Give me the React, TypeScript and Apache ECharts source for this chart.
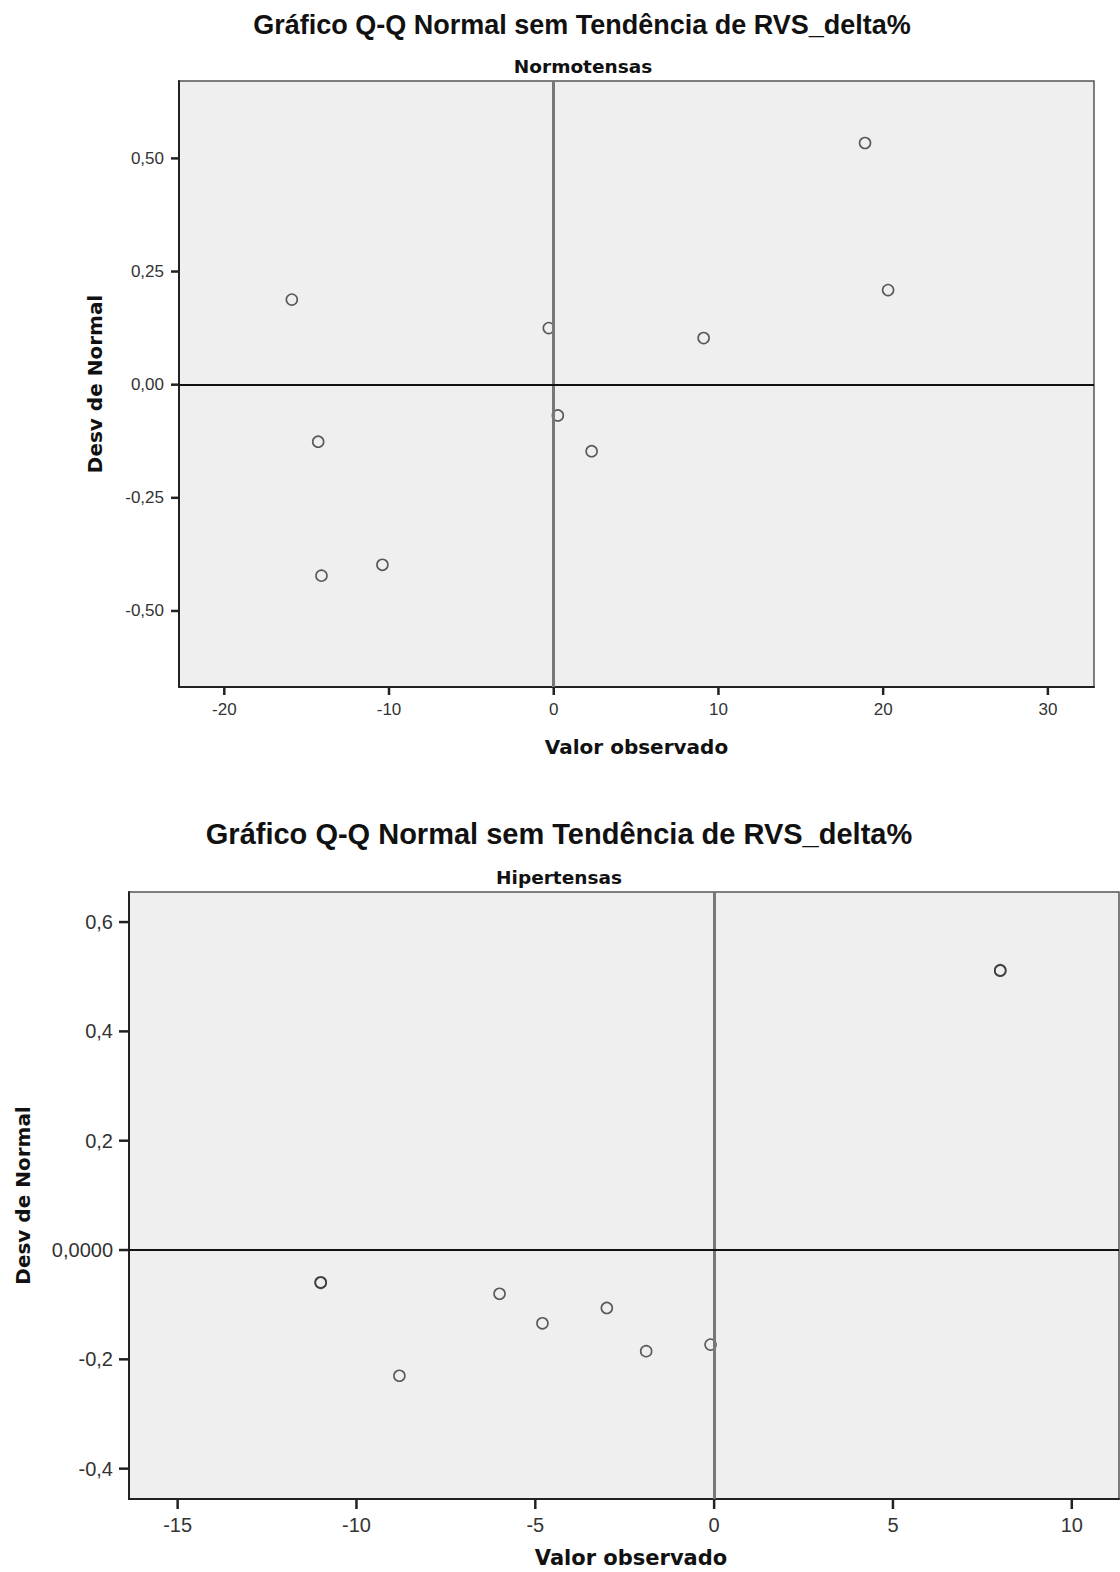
import React, { useEffect, useRef } from "react";
import * as echarts from "echarts";

// Normotensas
const normObserved = [18.9, 20.3, -15.9, -0.3, 0.25, -14.3, -14.1, -10.4, 9.1, 2.3];
const normDeviation = [0.534, 0.209, 0.188, 0.125, -0.068, -0.126, -0.422, -0.398, 0.103, -0.147];
const normXTicks = [-20, -10, 0, 10, 20, 30];
const normYTicks = [-0.5, -0.25, 0, 0.25, 0.5];

// Hipertensas
const hipObserved = [8.0, 8.0, -11.0, -11.0, -6.0, -4.8, -8.8, -3.0, -1.9, -0.1];
const hipDeviation = [0.511, 0.512, -0.059, -0.06, -0.08, -0.134, -0.23, -0.106, -0.185, -0.173];
const hipXTicks = [-15, -10, -5, 0, 5, 10];
const hipYTicks = [-0.4, -0.2, 0, 0.2, 0.4, 0.6];

const mainTitle = "Gráfico Q-Q Normal sem Tendência de RVS_delta%";
const groupNames = ["Normotensas", "Hipertensas"];
const xName = "Valor observado";
const yName = "Desv de Normal";

const ARIAL = "'Liberation Sans', Arial, sans-serif";
const DEJA = "'DejaVu Sans', Verdana, sans-serif";

const RANGES = [
  { xMin: -22.75, xMax: 32.8, yMin: -0.668, yMax: 0.671 },
  { xMin: -16.36, xMax: 11.32, yMin: -0.4555, yMax: 0.655 },
];

function pts(xs: number[], ys: number[]) {
  return xs.map((x, i) => [x, ys[i]]);
}

export default function App() {
  const ref = useRef<HTMLDivElement>(null);
  useEffect(() => {
    if (!ref.current) return;
    const chart = echarts.init(ref.current, undefined, { renderer: "svg" });

    const xAxisBase = (idx: number, ticks: number[], fs: number, margin: number, gap: number, pad: number[]) => ({
      type: "value",
      gridIndex: idx,
      min: RANGES[idx].xMin,
      max: RANGES[idx].xMax,
      name: xName,
      nameLocation: "middle",
      nameGap: gap,
      nameTextStyle: { fontFamily: DEJA, fontWeight: "bold", fontSize: idx === 0 ? 20 : 21, color: "#111", padding: pad },
      splitLine: { show: false },
      axisLine: { show: true, onZero: false, lineStyle: { color: "#222", width: 2 } },
      axisTick: { show: false },
      axisLabel: {
        show: true,
        customValues: ticks,
        margin,
        fontFamily: ARIAL,
        fontSize: fs,
        color: "#333",
        formatter: (v: number) => String(v),
      },
    });

    const yAxisBase = (idx: number, ticks: number[], fs: number, margin: number, gap: number, fmt: (v: number) => string) => ({
      type: "value",
      gridIndex: idx,
      min: RANGES[idx].yMin,
      max: RANGES[idx].yMax,
      name: yName,
      nameLocation: "middle",
      nameGap: gap,
      nameRotate: 90,
      nameTextStyle: { fontFamily: DEJA, fontWeight: "bold", fontSize: 20, color: "#111" },
      splitLine: { show: false },
      axisLine: { show: true, onZero: false, lineStyle: { color: "#222", width: 2 } },
      axisTick: { show: false },
      axisLabel: {
        show: true,
        customValues: ticks,
        margin,
        fontFamily: ARIAL,
        fontSize: fs,
        color: "#333",
        formatter: fmt,
      },
    });

    const fmt2 = (v: number) => v.toFixed(2).replace(".", ",");
    const fmtHip = (v: number) => (Math.abs(v) < 1e-9 ? "0,0000" : v.toFixed(1).replace(".", ","));

    const zeroLines = {
      silent: true,
      symbol: ["none", "none"],
      label: { show: false },
      emphasis: { disabled: true },
      data: [
        { xAxis: 0, lineStyle: { color: "#777", width: 3, type: "solid" } },
        { yAxis: 0, lineStyle: { color: "#111", width: 2, type: "solid" } },
      ],
    };

    const scatterStyle = {
      type: "scatter",
      symbol: "circle",
      symbolSize: 11,
      itemStyle: { color: "rgba(0,0,0,0)", borderColor: "#333", borderWidth: 1.6 },
      emphasis: { disabled: true },
      silent: true,
    };

    // tick marks: small rect symbols placed on the axis edge by the axes' own scales,
    // shifted outward with symbolOffset
    const tickMarks = (idx: number, values: number[], dir: "x" | "y", len: number) => {
      const r = RANGES[idx];
      return {
        type: "scatter",
        xAxisIndex: idx,
        yAxisIndex: idx,
        silent: true,
        clip: false,
        z: 20,
        symbol: "rect",
        symbolSize: dir === "x" ? [2.5, len] : [len, 2.5],
        symbolOffset: dir === "x" ? [0, len / 2] : [-len / 2, 0],
        itemStyle: { color: "#222", opacity: 1 },
        emphasis: { disabled: true },
        data: values.map((v) => (dir === "x" ? [v, r.yMin] : [r.xMin, v])),
      };
    };

    const titles: any[] = [
      { type: "text", x: 582, y: 25, style: { text: mainTitle, fontFamily: ARIAL, fontWeight: "bold", fontSize: 27, fill: "#111", textAlign: "center", textVerticalAlign: "middle" } },
      { type: "text", x: 583, y: 66, style: { text: groupNames[0], fontFamily: DEJA, fontWeight: "bold", fontSize: 18.5, fill: "#111", textAlign: "center", textVerticalAlign: "middle" } },
      { type: "text", x: 559, y: 834, style: { text: mainTitle, fontFamily: ARIAL, fontWeight: "bold", fontSize: 29, fill: "#111", textAlign: "center", textVerticalAlign: "middle" } },
      { type: "text", x: 559, y: 877, style: { text: groupNames[1], fontFamily: DEJA, fontWeight: "bold", fontSize: 18.5, fill: "#111", textAlign: "center", textVerticalAlign: "middle" } },
    ];

    chart.setOption({
      animation: false,
      backgroundColor: "#ffffff",
      grid: [
        { left: 179, top: 81, width: 915, height: 606, show: true, backgroundColor: "#efefef", borderColor: "#555", borderWidth: 1.5, containLabel: false },
        { left: 129, top: 892, width: 990, height: 607, show: true, backgroundColor: "#efefef", borderColor: "#555", borderWidth: 1.5, containLabel: false },
      ],
      xAxis: [
        xAxisBase(0, normXTicks, 17, 14, 50, [0, 0, 0, 0]),
        xAxisBase(1, hipXTicks, 20, 16, 48, [0, 0, 0, 14]),
      ],
      yAxis: [
        yAxisBase(0, normYTicks, 17, 15, 74, fmt2),
        yAxisBase(1, hipYTicks, 20, 16, 96, fmtHip),
      ],
      graphic: titles,
      series: [
        { ...scatterStyle, name: groupNames[0], xAxisIndex: 0, yAxisIndex: 0, data: pts(normObserved, normDeviation), markLine: zeroLines },
        { ...scatterStyle, name: groupNames[1], xAxisIndex: 1, yAxisIndex: 1, data: pts(hipObserved, hipDeviation), markLine: zeroLines },
        tickMarks(0, normXTicks, "x", 8),
        tickMarks(0, normYTicks, "y", 8),
        tickMarks(1, hipXTicks, "x", 10),
        tickMarks(1, hipYTicks, "y", 10),
      ],
    });

    return () => chart.dispose();
  }, []);

  return (
    <div
      ref={ref}
      style={{ position: "absolute", left: 0, top: 0, width: 1120, height: 1572, background: "#fff" }}
    />
  );
}
